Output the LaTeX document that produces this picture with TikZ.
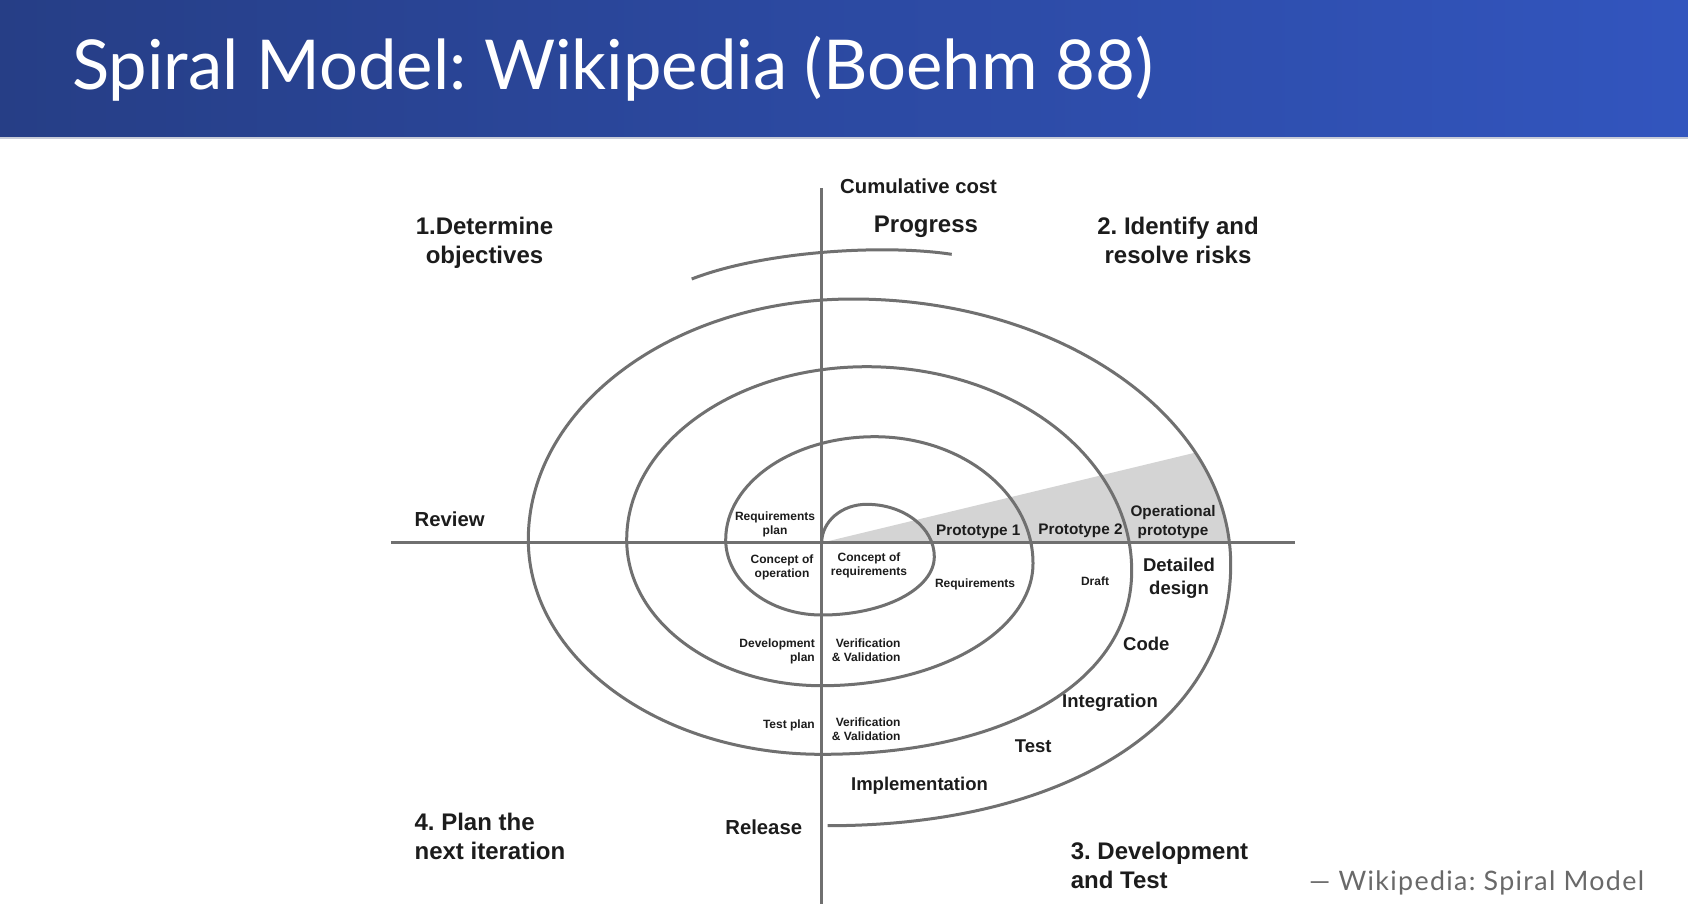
\documentclass[tikz,border=0pt]{standalone}
\usepackage{fontspec}
\setmainfont{Liberation Sans}
\newfontfamily\titlefont{Lato}
\newfontfamily\creditfont{Lato}[LetterSpace=5]
\usetikzlibrary{calc}
\frenchspacing

\definecolor{bandL}{RGB}{38,62,134}
\definecolor{bandR}{RGB}{50,85,190}
\definecolor{bandEdge}{RGB}{200,204,216}
\definecolor{linegray}{RGB}{112,112,112}
\definecolor{wedgegray}{RGB}{212,212,212}
\definecolor{inkdark}{RGB}{28,28,28}
\definecolor{creditgray}{RGB}{105,105,105}

\newcommand\fsz[2]{\fontsize{#1}{#2}\selectfont}
\newcommand\tstack[2]{\begin{tabular}[t]{@{}#1@{}}#2\end{tabular}}

\tikzset{
  lbl/.style={inner sep=0pt, anchor=base, text=inkdark},
  quad/.style={lbl, font=\bfseries\fsz{24}{29}},
  axislbl/.style={lbl, font=\bfseries\fsz{20.3}{24}},
  mid/.style={lbl, font=\bfseries\fsz{18.5}{22.3}},
  proto/.style={lbl, font=\bfseries\fsz{15.3}{18.3}},
  small/.style={lbl, font=\bfseries\fsz{12}{14}},
  spiral/.style={draw=linegray, line width=3pt},
  axisline/.style={draw=linegray, line width=3pt},
}

\begin{document}
\begin{tikzpicture}[x=1pt, y=-1pt]
\useasboundingbox (0,0) rectangle (1688,922);
\fill[white] (0,0) rectangle (1688,922);

% header band
\shade[left color=bandL, right color=bandR] (0,0) rectangle (1688,136.5);
\fill[bandEdge] (0,136.5) rectangle (1688,139);
\node[anchor=base west, inner sep=0pt, text=white, font=\titlefont\fsz{68.8}{80}]
  (title) at (72,89.5) {Spiral Model: Wikipedia (Boehm 88)};

% axes
\coordinate (O) at (821.7,542.7);
\coordinate (axTop) at (821.7,188);
\coordinate (axBot) at (821.7,904);
\coordinate (axLeft) at (390.8,542.7);
\coordinate (axRight) at (1295,542.7);

\begin{scope}[shift={(O)}, yscale=-1]
  % shaded prototype wedge
  \begin{scope}
    \clip (0,0) -- (750,180.8) -- (750,0) -- cycle;
    \fill[wedgegray] (31,243.7) .. controls (239.8,243.7) and (409,124.7) .. (409,-22)
      -- (0,-22) -- cycle;
  \end{scope}
\end{scope}

\draw[axisline] (axTop) -- (axBot);
\draw[axisline] (axLeft) -- (axRight);

\begin{scope}[shift={(O)}, yscale=-1]
  % the spiral
  \draw[spiral] (0,0) .. controls (0,21.2) and (19.9,38.4) .. (45,38.4)
    .. controls (82.3,38.4) and (112.6,14.9) .. (112.6,-14)
    .. controls (112.6,-46.2) and (62.2,-72.3) .. (0,-72.3)
    .. controls (-53,-72.3) and (-96,-38.6) .. (-96,3)
    .. controls (-96,59.9) and (-29.3,106) .. (53,106)
    .. controls (140.4,106) and (211.3,49.3) .. (211.3,-20.6)
    .. controls (211.3,-88.2) and (116.7,-143) .. (0,-143)
    .. controls (-107.7,-143) and (-195,-77.6) .. (-195,3)
    .. controls (-195,98.5) and (-87.6,176) .. (45,176)
    .. controls (191.4,176) and (310,84.7) .. (310,-28)
    .. controls (310,-138.2) and (186,-211.6) .. (0,-211.6)
    .. controls (-162,-211.6) and (-293.4,-115.5) .. (-293.4,3)
    .. controls (-293.4,135.9) and (-148.2,243.7) .. (31,243.7)
    .. controls (239.8,243.7) and (409,124.7) .. (409,-22)
    .. controls (409,-178.6) and (247.8,-283) .. (6,-283);
  % progress arc
  \draw[spiral] (-130,263.7) .. controls (-60,291) and (60,299) .. (130,288.4);
\end{scope}

% axis labels
\node[axislbl, anchor=base west] (cost) at (840,193.3) {Cumulative cost};
\node[quad] (progress) at (926,232.7) {Progress};
\node[axislbl, anchor=base west] (review) at (414.5,526.4) {Review};
\node[axislbl, anchor=base east] (release) at (802.3,834.3) {Release};

% quadrant labels
\node[quad] (q1) at (484.5,234) {\tstack{c}{1.Determine\\objectives}};
\node[quad] (q2) at (1178,234) {\tstack{c}{2. Identify and\\resolve risks}};
\node[quad, anchor=base west] (q4) at (414.4,830) {\tstack{l}{4. Plan the\\next iteration}};
\node[quad, anchor=base west] (q3) at (1070.6,859) {\tstack{l}{3. Development\\and Test}};

% development steps
\node[mid] (impl) at (919.5,790) {Implementation};
\node[mid] (test) at (1033.3,752.3) {Test};
\node[mid] (integ) at (1110,707.3) {Integration};
\node[mid] (code) at (1146.3,650) {Code};
\node[mid] (design) at (1179,571.7) {\tstack{c}{Detailed\\design}};

% prototypes
\node[proto] (opproto) at (1173,516.7) {\tstack{c}{Operational\\prototype}};
\node[proto] (proto2) at (1080.5,534.3) {Prototype 2};
\node[proto] (proto1) at (978.3,535) {Prototype 1};

% inner labels
\node[small] (draft) at (1095,585) {Draft};
\node[small] (reqs) at (975,587.7) {Requirements};
\node[small] (reqplan) at (775,520) {\tstack{c}{Requirements\\plan}};
\node[small] (conop) at (782,563.3) {\tstack{c}{Concept of\\operation}};
\node[small] (conreq) at (869,561.7) {\tstack{c}{Concept of\\requirements}};
\node[small, anchor=base east] (devplan) at (815,647.7) {\tstack{r}{Development\\plan}};
\node[small, anchor=base east] (vv1) at (900.7,647.7) {\tstack{r}{Verification\\\& Validation}};
\node[small, anchor=base east] (testplan) at (815,728.3) {Test plan};
\node[small, anchor=base east] (vv2) at (900.7,726.7) {\tstack{r}{Verification\\\& Validation}};

% source credit
\node[anchor=base west, inner sep=0pt, text=creditgray, font=\creditfont\fsz{26.8}{30}]
  (credit) at (1309,890) {— Wikipedia: Spiral Model};
\end{tikzpicture}
\end{document}
